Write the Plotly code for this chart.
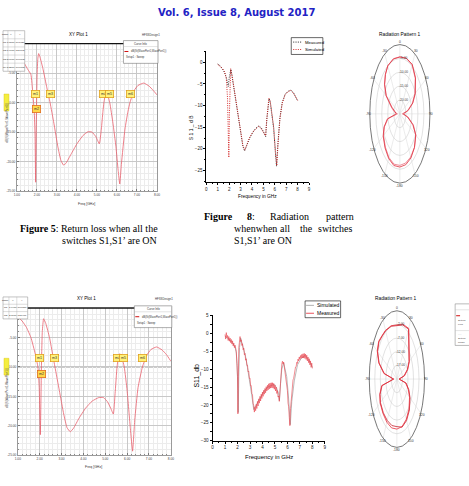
import plotly.graph_objects as go
import numpy as np

W, H = 469, 486
def PX(p): return p / W
def PY(p): return 1 - p / H

# ---------------- data ----------------
# Fig 5 (top-left HFSS plot)
hfss_a_freq = [1.00,1.20,1.40,1.55,1.70,1.80,1.87,1.91,1.94,1.97,
               2.01,2.05,2.09,2.15,2.30,2.50,2.66,2.85,3.05,3.20,
               3.33,3.45,3.70,4.00,4.30,4.55,4.75,4.95,5.12,5.22,
               5.30,5.35,5.44,5.52,5.64,5.80,5.95,6.06,6.14,6.22,
               6.40,6.55,6.65,6.85,7.05,7.34,7.60,7.80,8.00]
hfss_a_db = [-1.6,-2.4,-3.5,-4.4,-5.2,-8.5,-11.5,-15.5,-23.5,-14.0,
             -5.5,-2.5,-1.7,-2.2,-4.2,-7.5,-10.0,-13.5,-17.5,-19.8,
             -20.6,-20.3,-18.8,-17.0,-15.6,-14.95,-15.0,-15.8,-17.0,-14.5,
             -11.5,-10.0,-8.4,-8.6,-10.0,-13.5,-17.5,-21.5,-23.8,-20.5,
             -14.5,-11.5,-10.0,-8.0,-7.1,-6.7,-7.2,-7.9,-8.7]
hfss_a_mk_freq = [1.94, 2.67, 5.35, 5.64, 6.67, 1.97]
hfss_a_mk_db = [-10.0, -10.0, -10.0, -10.0, -10.0, -12.0]
hfss_a_mk_name = ["m1", "m3", "m4", "m5", "m6", "m2"]

# bottom-left HFSS plot
hfss_b_freq = [1.00,1.20,1.40,1.60,1.80,1.92,1.98,2.03,2.08,2.12,
               2.18,2.28,2.45,2.60,2.70,2.90,3.10,3.25,3.40,3.55,
               3.80,4.10,4.40,4.70,4.92,5.10,5.25,5.37,5.45,5.54,
               5.63,5.72,5.87,6.00,6.15,6.25,6.35,6.50,6.70,6.90,
               7.10,7.35,7.60,7.80,8.00]
hfss_b_db = [-1.5,-2.2,-3.3,-5.0,-7.8,-10.0,-13.5,-21.5,-10.0,-4.0,
             -1.8,-2.6,-5.0,-8.0,-10.0,-14.0,-18.0,-20.3,-21.0,-20.4,
             -18.7,-17.0,-15.8,-15.2,-15.2,-15.9,-17.0,-18.0,-14.5,-10.0,
             -7.8,-7.9,-10.0,-14.0,-20.5,-24.3,-19.0,-13.5,-10.0,-8.0,
             -7.0,-6.6,-7.1,-7.9,-9.0]
hfss_b_mk_freq = [1.98, 2.70, 5.55, 5.85, 6.70, 2.07]
hfss_b_mk_db = [-10.0, -10.0, -10.0, -10.0, -10.0, -12.0]
hfss_b_mk_name = ["m1", "m3", "m4", "m5", "m6", "m2"]

hfss_xticks = [1, 2, 3, 4, 5, 6, 7, 8]
hfss_yticks = [0, -5, -10, -15, -20, -25]
hfss_ref_db = -10

# top-middle S11 plot
s11_top_sim_freq = [1.00,1.20,1.40,1.60,1.75,1.85,1.92,1.97,2.02,2.08,
                    2.13,2.25,2.50,2.75,3.00,3.20,3.37,3.55,3.80,4.10,
                    4.35,4.58,4.80,5.00,5.19,5.30,5.40,5.48,5.60,5.75,
                    5.90,6.05,6.17,6.28,6.45,6.65,6.90,7.15,7.41,7.65,
                    7.85,8.00]
s11_top_sim = [-0.5,-0.9,-1.4,-2.2,-3.8,-8.0,-15.0,-22.0,-12.0,-4.0,
               -1.5,-3.0,-7.5,-12.0,-16.0,-19.2,-20.3,-19.0,-17.3,-16.0,
               -15.3,-14.8,-15.3,-16.2,-17.0,-13.0,-9.5,-8.3,-9.0,-11.5,
               -15.0,-20.5,-23.9,-19.0,-13.0,-9.5,-7.5,-6.8,-6.5,-7.2,
               -8.1,-8.8]
s11_top_meas_freq = [1.00,1.20,1.40,1.60,1.75,1.85,1.92,2.00,2.08,2.15,
                     2.25,2.50,2.75,3.00,3.20,3.35,3.55,3.80,4.10,4.35,
                     4.60,4.80,5.00,5.20,5.30,5.40,5.50,5.60,5.75,5.90,
                     6.05,6.15,6.27,6.45,6.65,6.90,7.15,7.40,7.65,7.85,
                     8.00]
s11_top_meas = [-0.4,-0.8,-1.5,-2.4,-3.5,-5.0,-5.6,-3.6,-1.8,-1.6,
                -3.2,-7.7,-12.2,-16.2,-19.4,-20.5,-19.2,-17.5,-16.1,-15.2,
                -14.7,-15.1,-16.0,-17.2,-13.2,-9.7,-8.4,-9.2,-11.8,-15.3,
                -20.8,-24.0,-18.8,-12.8,-9.3,-7.4,-6.7,-6.4,-7.1,-8.0,
                -8.9]
s11_top_xticks = [0, 1, 2, 3, 4, 5, 6, 7, 8, 9]
s11_top_yticks = [0, -5, -10, -15, -20, -25]

# bottom-middle S11 plot
s11_bot_sim_freq = [1.00,1.20,1.40,1.60,1.80,1.90,1.97,2.03,2.06,2.10,
                    2.16,2.25,2.40,2.64,2.80,2.98,3.15,3.30,3.45,3.78,
                    4.05,4.35,4.65,4.96,5.15,5.30,5.36,5.45,5.55,5.70,
                    5.82,5.94,6.08,6.23,6.35,6.55,6.81,7.10,7.42,7.70,
                    8.00]
s11_bot_sim = [-0.8,-1.3,-1.9,-2.7,-3.8,-5.5,-9.0,-16.0,-22.1,-12.0,
               -4.0,-1.3,-3.0,-6.4,-9.6,-13.3,-17.5,-21.3,-20.3,-18.0,
               -16.6,-15.2,-14.6,-14.3,-15.4,-16.9,-18.8,-14.0,-10.0,-8.3,
               -9.8,-12.0,-17.5,-25.5,-19.0,-13.3,-8.8,-7.0,-6.2,-7.3,
               -9.5]
s11_bot_meas_freq = [1.00,1.05,1.10,1.15,1.20,1.25,1.30,1.35,1.40,1.45,
                     1.50,1.55,1.60,1.65,1.70,1.75,1.80,1.85,1.90,1.95,
                     2.00,2.03,2.06,2.10,2.15,2.20,2.25,2.30,2.35,2.40,
                     2.45,2.50,2.55,2.60,2.65,2.70,2.75,2.80,2.85,2.90,
                     2.95,3.00,3.05,3.10,3.15,3.20,3.25,3.30,3.35,3.40,
                     3.45,3.50,3.55,3.60,3.65,3.70,3.75,3.80,3.85,3.90,
                     3.95,4.00,4.05,4.10,4.15,4.20,4.25,4.30,4.35,4.40,
                     4.45,4.50,4.55,4.60,4.65,4.70,4.75,4.80,4.85,4.90,
                     4.95,5.00,5.05,5.10,5.15,5.20,5.25,5.30,5.35,5.40,
                     5.45,5.50,5.55,5.60,5.65,5.70,5.75,5.80,5.85,5.90,
                     5.95,6.00,6.05,6.10,6.15,6.20,6.25,6.30,6.35,6.40,
                     6.45,6.50,6.55,6.60,6.65,6.70,6.75,6.80,6.85,6.90,
                     6.95,7.00,7.05,7.10,7.15,7.20,7.25,7.30,7.35,7.40,
                     7.45,7.50,7.55,7.60,7.65,7.70,7.75,7.80,7.85,7.90,
                     7.95,8.00]
s11_bot_meas = [-0.3,-1.6,0.2,-1.2,-0.6,-2.0,-0.9,-2.2,-1.3,-2.6,
                -1.7,-3.0,-2.1,-3.5,-2.7,-4.0,-3.3,-4.8,-5.0,-8.5,
                -12.0,-22.5,-10.0,-4.0,-2.5,-0.9,-2.3,-1.8,-3.4,-2.9,
                -4.6,-4.1,-6.0,-5.6,-7.5,-7.1,-9.0,-8.9,-10.8,-10.6,
                -12.6,-12.5,-14.7,-14.6,-16.8,-17.1,-19.6,-20.2,-22.0,-20.5,
                -21.6,-19.8,-21.0,-19.0,-20.3,-18.3,-19.5,-17.6,-18.9,-17.0,
                -18.2,-16.4,-17.6,-15.9,-17.0,-15.4,-16.6,-14.9,-16.1,-14.5,
                -15.8,-14.1,-15.5,-13.9,-15.3,-13.8,-15.2,-13.8,-15.3,-14.0,
                -15.6,-14.4,-16.1,-15.0,-16.8,-16.0,-17.8,-17.5,-19.0,-16.0,
                -12.5,-10.0,-8.6,-7.8,-8.6,-8.0,-9.6,-10.0,-11.8,-12.5,
                -15.0,-16.0,-19.5,-20.5,-23.5,-25.8,-21.0,-18.5,-16.0,-15.0,
                -13.0,-12.6,-11.0,-10.8,-9.4,-9.3,-8.1,-8.4,-7.2,-7.7,
                -6.6,-7.3,-6.2,-7.0,-5.9,-6.9,-5.7,-6.9,-5.6,-7.0,
                -5.8,-7.3,-6.1,-7.7,-6.6,-8.2,-7.1,-8.8,-7.7,-9.5,
                -8.3,-9.8]
s11_bot_xticks = [0, 1, 2, 3, 4, 5, 6, 7, 8, 9]
s11_bot_yticks = [5, 0, -5, -10, -15, -20, -25, -30]

# radiation patterns (angle in deg, gain in dB)
pat_angles = [-180,-165,-150,-135,-120,-110,-100,-90,-80,-70,
              -60,-50,-40,-30,-15,0,15,30,45,60,
              70,80,90,100,110,120,135,150,165,180]
pat_top_a = [-5.8,-5.7,-6.4,-7.6,-9.0,-11.0,-14.5,-22.0,-21.0,-18.0,
             -12.0,-8.5,-6.4,-5.0,-4.5,-4.5,-4.2,-4.4,-6.6,-10.2,
             -13.5,-18.0,-22.0,-18.5,-13.5,-9.8,-7.8,-6.6,-6.0,-5.8]
pat_top_b = [-6.4,-6.2,-6.8,-8.0,-9.3,-11.4,-15.0,-23.0,-20.0,-17.0,
             -11.6,-8.3,-6.3,-4.9,-4.4,-4.4,-4.3,-4.6,-6.9,-10.6,
             -14.0,-18.5,-23.0,-18.0,-13.0,-9.6,-7.9,-7.0,-6.6,-6.4]
pat_bot_a = [-3.7,-3.5,-3.8,-4.2,-4.5,-5.5,-8.0,-19.0,-10.0,-4.5,
             -1.5,-0.5,-1.2,-1.4,-1.8,-2.3,-1.2,-0.6,-6.5,-9.0,
             -11.5,-15.0,-20.0,-14.0,-11.0,-8.8,-6.5,-5.0,-4.0,-3.7]
pat_bot_b = [-4.6,-4.4,-4.5,-4.6,-4.8,-5.8,-8.4,-19.0,-10.5,-4.9,
             -1.8,-0.8,-1.4,-1.6,-2.0,-2.5,-1.5,-0.9,-6.8,-9.3,
             -12.0,-15.5,-20.0,-13.5,-10.5,-8.3,-6.0,-4.5,-3.8,-4.6]
pat_top_limits = (-25.0, 0.0)     # centre, outer ring
pat_bot_limits = (-22.0, 3.0)
pat_top_rings = [-5, -10, -15, -20]
pat_bot_rings = [-2, -7, -12, -17]
pat_angle_ticks = [-180, -150, -120, -90, -60, -30, 0, 30, 60, 90, 120, 150]

# ---------------- figure ----------------
fig = go.Figure()
annotations = []
shapes = []

def ann(x, y, text, size, xanchor='center', yanchor='middle', family='Liberation Sans',
        color='#000', xref='paper', yref='paper', angle=0, **kw):
    if xref == 'paper':
        x = PX(x)
    if yref == 'paper':
        y = PY(y)
    annotations.append(dict(x=x, y=y, xref=xref, yref=yref, text=text, showarrow=False,
                            xanchor=xanchor, yanchor=yanchor, textangle=angle,
                            font=dict(size=size, family=family, color=color), **kw))

def rect(x0, y0, x1, y1, line='#000', width=0.6, fill='rgba(0,0,0,0)'):
    shapes.append(dict(type='rect', xref='paper', yref='paper', x0=PX(x0), x1=PX(x1),
                       y0=PY(y1), y1=PY(y0), line=dict(color=line, width=width),
                       fillcolor=fill, layer='above'))

def hline(x0, x1, y, color, width=0.8, dash='solid'):
    shapes.append(dict(type='line', xref='paper', yref='paper', x0=PX(x0), x1=PX(x1),
                       y0=PY(y), y1=PY(y), line=dict(color=color, width=width, dash=dash),
                       layer='above'))

def vline(x, y0, y1, color, width=0.5):
    shapes.append(dict(type='line', xref='paper', yref='paper', x0=PX(x), x1=PX(x),
                       y0=PY(y0), y1=PY(y1), line=dict(color=color, width=width),
                       layer='above'))

HF_RED = '#e8606c'
FINE_DOT = '1px,1.3px'

# ---- HFSS plots ----
def hfss_axes(xd, yd):
    xa = dict(domain=[PX(xd[0]), PX(xd[1])], range=[1, 8],
              tickvals=hfss_xticks, ticktext=[f'{v:.2f}' for v in hfss_xticks],
              tickfont=dict(size=3.2, color='#444'), showgrid=True, gridcolor='#c8c8c8',
              gridwidth=0.6, ticks='inside', ticklen=2, tickcolor='#777', tickwidth=0.5,
              minor=dict(dtick=0.2, showgrid=True, gridcolor='#ececec', gridwidth=0.5,
                         ticks='inside', ticklen=1.2, tickcolor='#888'),
              showline=True, linecolor='#9a9a9a', linewidth=0.6, mirror=True,
              zeroline=False, fixedrange=True)
    yaxd = dict(domain=[PY(yd[1]), PY(yd[0])], range=[-25, 0],
                tickvals=hfss_yticks,
                ticktext=['' if v == 0 else f'{v:.2f}' for v in hfss_yticks],
                tickfont=dict(size=3.2, color='#444'), showgrid=True, gridcolor='#c8c8c8',
                gridwidth=0.6, ticks='inside', ticklen=2, tickcolor='#777', tickwidth=0.5,
                minor=dict(dtick=1, showgrid=True, gridcolor='#ececec', gridwidth=0.5,
                           ticks='inside', ticklen=1.2, tickcolor='#888'),
                showline=True, linecolor='#9a9a9a', linewidth=0.6, mirror=True,
                zeroline=False, fixedrange=True)
    return xa, yaxd

xa1, ya1 = hfss_axes((14, 156), (42, 191))
xa1['anchor'] = 'y'; ya1['anchor'] = 'x'
xa4, ya4 = hfss_axes((15, 170), (309.3, 458))
xa4['anchor'] = 'y4'; ya4['anchor'] = 'x4'

fig.add_trace(go.Scatter(x=hfss_a_freq, y=hfss_a_db, mode='lines', xaxis='x', yaxis='y',
                         line=dict(color=HF_RED, width=0.8, shape='spline', smoothing=0.4),
                         hoverinfo='skip'))
fig.add_trace(go.Scatter(x=hfss_b_freq, y=hfss_b_db, mode='lines', xaxis='x4', yaxis='y4',
                         line=dict(color=HF_RED, width=0.8, shape='spline', smoothing=0.4),
                         hoverinfo='skip'))

for (xr, yr) in [('x', 'y'), ('x4', 'y4')]:
    shapes.append(dict(type='line', xref=xr, yref=yr, x0=1, x1=8, y0=hfss_ref_db,
                       y1=hfss_ref_db, line=dict(color='#8a8a8a', width=0.9), layer='below'))

# markers
for names, fr, db, xr, yr in [(hfss_a_mk_name, hfss_a_mk_freq, hfss_a_mk_db, 'x', 'y'),
                              (hfss_b_mk_name, hfss_b_mk_freq, hfss_b_mk_db, 'x4', 'y4')]:
    for i, (n, f, d) in enumerate(zip(names, fr, db)):
        low = i == len(names) - 1
        annotations.append(dict(x=f, y=d, xref=xr, yref=yr, text=n, showarrow=False,
                                yshift=5 if low else 9,
                                font=dict(size=3.6, color='#333', family='Liberation Sans'),
                                bgcolor='#ffd84a' if low else '#fff27a',
                                bordercolor='#e07020' if low else '#e0a020',
                                borderwidth=0.8, borderpad=1.2))

# top thick borders
hline(14, 156, 42, '#111', 1.3)
hline(15, 170, 309.3, '#111', 1.3)

# HFSS titles & labels
ann(76, 33, 'XY Plot 1', 4.5)
ann(150, 33, 'HFSSDesign1', 2.8, color='#333')
ann(85, 300, 'XY Plot 1', 4.5)
ann(163, 300, 'HFSSDesign1', 2.8, color='#333')
ann(85, 204, 'Freq [GHz]', 3.5, color='#333')
ann(92, 470, 'Freq [GHz]', 3.5, color='#333')
ann(4, 122, 'dB(S(WavePort1,WavePort1))', 3, angle=-90, color='#555')
ann(4, 390, 'dB(S(WavePort1,WavePort1))', 3, angle=-90, color='#555')
rect(1, 93, 6, 110, line='#d8c000', width=0.4, fill='#f4ee40')
rect(1, 360, 6, 377, line='#d8c000', width=0.4, fill='#f4ee40')

# marker tables
def table(x0, y0, rows, rowh, colx):
    y1 = y0 + rowh * len(rows)
    rect(x0, y0, colx[-1], y1, line='#888', width=0.5, fill='white')
    for i in range(1, len(rows)):
        hline(x0, colx[-1], y0 + rowh * i, '#aaa', 0.4)
    for cx in colx[1:-1]:
        vline(cx, y0, y1, '#aaa', 0.4)
    for i, r in enumerate(rows):
        for j, t in enumerate(r):
            ann((colx[j] + colx[j + 1]) / 2, y0 + rowh * (i + 0.5), t, 2.4, color='#222')

table(0, 29, [['Name', 'X', 'Y'], ['m1', '1.8800', '-10.1030'], ['m2', '1.9700', '-12.0045'],
              ['m3', '2.6600', '-10.0092'], ['m4', '5.3500', '-10.0063']], 8.2, [0, 5, 12, 22])
table(0, 298, [['Name', 'X', 'Y'], ['m1', '1.9400', '-10.0800'], ['m2', '2.0700', '-12.8477']],
      7.4, [0, 6, 14, 25])

# HFSS curve-info legends
def curve_info(x0, y0, x1, y1, rowy):
    rect(x0, y0, x1, y1, line='#777', width=0.6, fill='white')
    ann((x0 + x1) / 2, y0 + 3, 'Curve Info', 2.8, color='#333')
    hline(x0, x1, y0 + 6, '#bbb', 0.4)
    hline(x0 + 1, x0 + 5, rowy, '#d01010', 1.0)
    ann(x0 + 6, rowy, 'dB(St(WavePort1,WavePort1))', 2.6, xanchor='left', color='#333')
    ann(x0 + 1, rowy + 6, 'Setup1 : Sweep', 2.6, xanchor='left', color='#333')

curve_info(122, 39, 157, 62, 50)
curve_info(133, 307, 171, 329, 318)

# ---- Origin style S11 plots ----
def origin_axes(xd, yd, yr, yt, anchor_y, anchor_x, fs):
    xa = dict(domain=[PX(xd[0]), PX(xd[1])], range=[0, 9], anchor=anchor_y,
              tickvals=s11_top_xticks, ticks='outside', ticklen=2.2, tickwidth=0.6,
              tickcolor='#000', minor=dict(dtick=0.5, ticks='outside', ticklen=1.3,
                                           tickcolor='#000', tickwidth=0.5),
              tickfont=dict(size=fs, color='#222'), showline=True, linecolor='#000',
              linewidth=0.7, showgrid=False, zeroline=False, fixedrange=True)
    yaxd = dict(domain=[PY(yd[1]), PY(yd[0])], range=yr, anchor=anchor_x,
                tickvals=yt, ticks='outside', ticklen=2.2, tickwidth=0.6, tickcolor='#000',
                minor=dict(dtick=2.5, ticks='outside', ticklen=1.3, tickcolor='#000',
                           tickwidth=0.5),
                tickfont=dict(size=fs, color='#222'), showline=True, linecolor='#000',
                linewidth=0.7, showgrid=False, zeroline=False, fixedrange=True)
    return xa, yaxd

xa2, ya2 = origin_axes((206, 310), (50, 182), [-27.7, 2.5], s11_top_yticks, 'y2', 'x2', 4.5)
xa5, ya5 = origin_axes((212.3, 326), (316.7, 443.3), [-30, 5], s11_bot_yticks, 'y5', 'x5', 4.6)

fig.add_trace(go.Scatter(x=s11_top_meas_freq, y=s11_top_meas, mode='lines', xaxis='x2',
                         yaxis='y2', line=dict(color='#222', width=0.9, dash=FINE_DOT),
                         hoverinfo='skip'))
fig.add_trace(go.Scatter(x=s11_top_sim_freq, y=s11_top_sim, mode='lines', xaxis='x2',
                         yaxis='y2', line=dict(color='#d01818', width=0.9, dash=FINE_DOT),
                         hoverinfo='skip'))
fig.add_trace(go.Scatter(x=s11_bot_sim_freq, y=s11_bot_sim, mode='lines', xaxis='x5',
                         yaxis='y5', line=dict(color='#a8a8a8', width=0.8),
                         hoverinfo='skip'))
fig.add_trace(go.Scatter(x=s11_bot_meas_freq, y=s11_bot_meas, mode='lines', xaxis='x5',
                         yaxis='y5', line=dict(color='#e8404a', width=0.6),
                         hoverinfo='skip'))

ann(190, 127, 'S 1 1 _ d B', 5, angle=-90)
ann(258, 197, 'Frequency in GHz', 4.8)
ann(197, 377, 'S11_db', 7, angle=-90)
ann(269, 460, 'Frequency in GHz', 6)

# legends
rect(292, 36, 324, 53, line='#000', width=0.6, fill='white')
hline(294, 302, 40.5, '#111', 0.9, FINE_DOT)
ann(304, 40.5, 'Measured', 4.3, xanchor='left')
hline(294, 302, 48, '#d01818', 0.9, FINE_DOT)
ann(304, 48, 'Simulated', 4.3, xanchor='left')

rect(306, 302, 342, 319, line='#000', width=0.6, fill='white')
hline(307, 315, 306.5, '#a8a8a8', 0.9)
ann(316, 306.5, 'Simulated', 5, xanchor='left')
hline(307, 315, 314.5, '#e8404a', 0.9)
ann(316, 314.5, 'Measured', 5, xanchor='left')

# ---- radiation patterns (as scaled ellipse) ----
def pol_xy(ang, db, lim):
    a = np.radians(np.array(ang, dtype=float))
    r = np.clip((np.array(db, dtype=float) - lim[0]) / (lim[1] - lim[0]), 0, None)
    return r * np.sin(a), r * np.cos(a)

def polar_panel(xr, yr, rings, lim, traces):
    for rdb in rings:
        r = (rdb - lim[0]) / (lim[1] - lim[0])
        shapes.append(dict(type='circle', xref=xr, yref=yr, x0=-r, x1=r, y0=-r, y1=r,
                           line=dict(color='#c4c4c4', width=0.5), layer='below'))
        annotations.append(dict(x=0, y=r, xref=xr, yref=yr, xshift=4, text=f'{rdb:.2f}',
                                showarrow=False, font=dict(size=3.2, color='#444')))
    for a in pat_angle_ticks:
        t = np.radians(a)
        shapes.append(dict(type='line', xref=xr, yref=yr, x0=0, y0=0, x1=np.sin(t),
                           y1=np.cos(t), line=dict(color='#d0d0d0', width=0.4),
                           layer='below'))
        annotations.append(dict(x=1.05 * np.sin(t), y=1.04 * np.cos(t), xref=xr, yref=yr,
                                text=str(a), showarrow=False,
                                font=dict(size=3.3, color='#333')))
    shapes.append(dict(type='circle', xref=xr, yref=yr, x0=-1, x1=1, y0=-1, y1=1,
                       line=dict(color='#555', width=0.8), layer='below'))
    for db, col in traces:
        px_, py_ = pol_xy(pat_angles, db, lim)
        fig.add_trace(go.Scatter(x=px_, y=py_, mode='lines', xaxis=xr, yaxis=yr,
                                 line=dict(color=col, width=0.8), hoverinfo='skip'))

def hidden(xd, anchor):
    return dict(domain=[PX(xd[0]), PX(xd[1])], range=[-1.05, 1.05], visible=False,
                anchor=anchor, fixedrange=True)

xa3 = hidden((402 - 32, 402 + 32), 'y3')
ya3 = dict(domain=[PY(113 + 73.5), PY(113 - 73.5)], range=[-1.05, 1.05], visible=False,
           anchor='x3', fixedrange=True)
xa6 = hidden((399 - 29.4, 399 + 29.4), 'y6')
ya6 = dict(domain=[PY(381 + 72.5), PY(381 - 72.5)], range=[-1.05, 1.05], visible=False,
           anchor='x6', fixedrange=True)

polar_panel('x3', 'y3', pat_top_rings, pat_top_limits,
            [(pat_top_b, '#ea7080'), (pat_top_a, '#e0303e')])
polar_panel('x6', 'y6', pat_bot_rings, pat_bot_limits,
            [(pat_bot_b, '#c81e2c'), (pat_bot_a, '#e8303e')])

ann(402, 33, 'Radiation Pattern 1', 4.8)
ann(398, 300, 'Radiation Pattern 1', 4.8)

# cut-off legend at right edge
rect(458, 305, 480, 347, line='#777', width=0.5, fill='white')
hline(458, 480, 311, '#bbb', 0.4)
hline(459, 463, 317, '#d01010', 1.0)
ann(459, 322, 'Setup1', 2.4, xanchor='left', color='#444')
ann(459, 326, 'Freq', 2.4, xanchor='left', color='#444')
hline(458, 480, 332, '#bbb', 0.4)
ann(459, 336, '----', 2.4, xanchor='left', color='#444')
ann(459, 340, 'Setup1', 2.4, xanchor='left', color='#444')
ann(459, 344, 'Phase', 2.4, xanchor='left', color='#444')

# ---- page text ----
ann(237, 11, '<b>Vol. 6, Issue 8, August 2017</b>', 10, family='DejaVu Sans', color='#2222c4')

SERIF = 'Liberation Serif'
ann(15, 229, '<b>Figure 5</b>: Return loss when all the', 10, xanchor='left', family=SERIF)
ann(58, 241, 'switches S1,S1’ are ON', 10, xanchor='left', family=SERIF)
for w, x in [('<b>Figure</b>', 202), ('<b>8</b>:', 245), ('Radiation', 268), ('pattern', 325)]:
    ann(x, 217, w, 10, xanchor='left', family=SERIF)
for w, x in [('whenwhen', 232), ('all', 279), ('the', 299), ('switches', 317)]:
    ann(x, 229, w, 10, xanchor='left', family=SERIF)
ann(232, 241, 'S1,S1’ are ON', 10, xanchor='left', family=SERIF)

fig.update_layout(
    width=W, height=H, margin=dict(l=0, r=0, t=0, b=0, pad=0),
    paper_bgcolor='white', plot_bgcolor='white', showlegend=False,
    font=dict(family='Liberation Sans', color='#000'),
    xaxis=xa1, yaxis=ya1, xaxis2=xa2, yaxis2=ya2, xaxis3=xa3, yaxis3=ya3,
    xaxis4=xa4, yaxis4=ya4, xaxis5=xa5, yaxis5=ya5, xaxis6=xa6, yaxis6=ya6,
    annotations=annotations, shapes=shapes,
)

fig.write_html('out.html')
